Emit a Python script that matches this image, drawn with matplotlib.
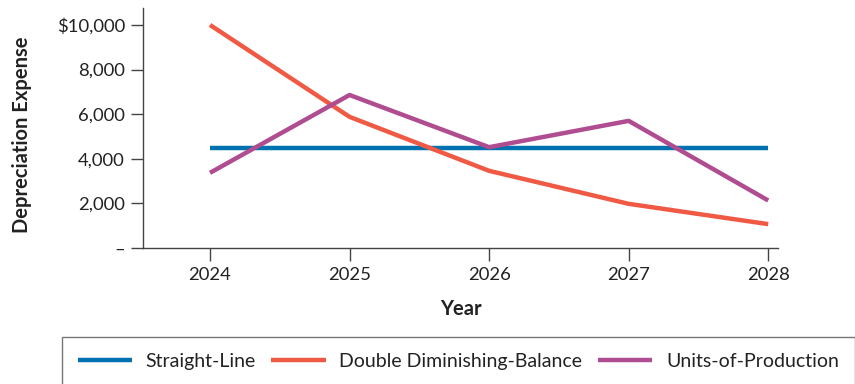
import matplotlib
matplotlib.use("Agg")
import matplotlib.pyplot as plt
from matplotlib.ticker import FuncFormatter

plt.rcParams['font.family'] = ['Lato', 'DejaVu Sans']

# -------------------------------
# Data
# -------------------------------
years = [2024, 2025, 2026, 2027, 2028]
straight_line = [4500, 4500, 4500, 4500, 4500]
double_declining = [10000, 5880, 3460, 1980, 1070]
units_of_production = [3370, 6860, 4520, 5700, 2130]

y_ticks = [0, 2000, 4000, 6000, 8000, 10000]

blue = "#0072B0"
orange = "#F05A44"
purple = "#B04C90"
axis_col = "#444444"

fig = plt.figure(figsize=(8.55, 3.84), dpi=100)
ax = fig.add_axes([143/855, 1 - 248/384, (778 - 143)/855, (248 - 8)/384])

ax.plot(years, straight_line, color=blue, lw=3.2, label="Straight-Line", solid_capstyle="butt")
ax.plot(years, double_declining, color=orange, lw=3.2, label="Double Diminishing-Balance", solid_capstyle="butt")
ax.plot(years, units_of_production, color=purple, lw=3.2, label="Units-of-Production", solid_capstyle="butt")

ax.set_xlim(2023.52, 2028.07)
ax.set_ylim(0, 10760)
ax.set_xticks(years)
ax.set_yticks(y_ticks)


def fmt(v, pos):
    if v == 0:
        return "–"
    if v == 10000:
        return "${:,.0f}".format(v)
    return "{:,.0f}".format(v)


ax.yaxis.set_major_formatter(FuncFormatter(fmt))

for s in ["top", "right"]:
    ax.spines[s].set_visible(False)
for s in ["left", "bottom"]:
    ax.spines[s].set_color(axis_col)
    ax.spines[s].set_linewidth(1.0)

ax.tick_params(axis="both", colors=axis_col, labelcolor="#222222", labelsize=13.3, length=9, width=1.0)
ax.tick_params(axis="y", pad=4)
ax.tick_params(axis="x", pad=5)

ax.set_xlabel("Year", fontsize=14.5, fontweight="bold", color="#222222", labelpad=11)
ax.set_ylabel("Depreciation Expense", fontsize=14.5, fontweight="bold", color="#222222")
ax.yaxis.set_label_coords(-(143 - 32) / 635, 0.47)

leg = fig.legend(loc="upper left", bbox_to_anchor=(62/855, 1 - 337/384), ncol=3,
                 fontsize=14, frameon=True, fancybox=False, handlelength=2.8,
                 handletextpad=0.7, columnspacing=0.8, borderpad=0.8, borderaxespad=0)
leg.get_frame().set_edgecolor("#555555")
leg.get_frame().set_linewidth(1.0)
for t in leg.get_texts():
    t.set_color("#222222")
for h in leg.get_lines():
    h.set_linewidth(3.2)

fig.savefig("out.png", dpi=100)
